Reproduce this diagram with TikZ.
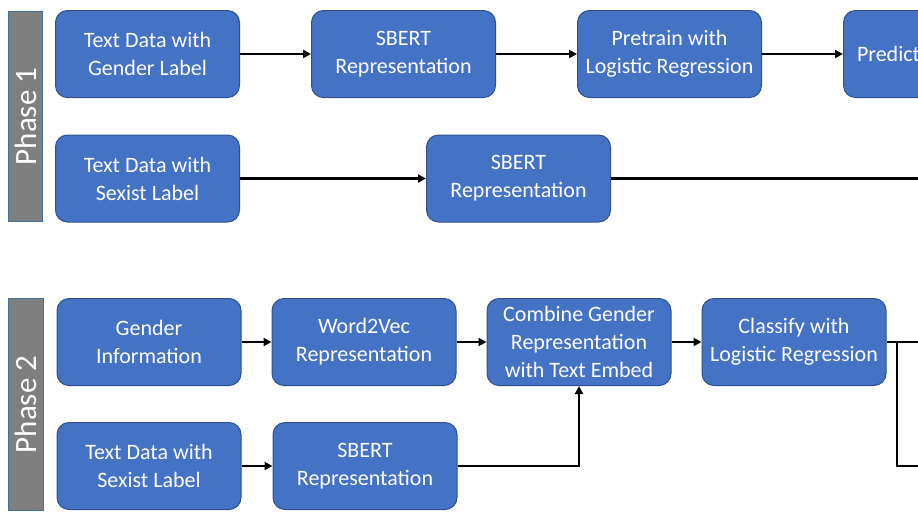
\documentclass[tikz,border=0pt]{standalone}
\usepackage{fontspec}
\setmainfont{Carlito}
\usepackage{xcolor}
\usepackage{tikz}
\usetikzlibrary{positioning,arrows.meta}
\definecolor{boxblue}{HTML}{4472C4}
\definecolor{boxline}{HTML}{2F528F}
\definecolor{phasegray}{HTML}{7F7F7F}
\definecolor{phaseline}{HTML}{41719C}
\tikzset{
  proc/.style={rectangle, rounded corners=12pt, draw=boxline, fill=boxblue, line width=1pt,
    text=white, align=center, font=\fontsize{22}{28}\selectfont,
    minimum width=184pt, minimum height=87pt, inner sep=0pt},
  phase/.style={rectangle, draw=phaseline, fill=phasegray, line width=1pt,
    text=white, font=\fontsize{31}{36}\selectfont, rotate=90, inner sep=0pt},
  flow/.style={-{Triangle[length=8pt,width=8pt]}, draw=black, line width=2.5pt},
  wire/.style={draw=black, line width=2.5pt},
}
\begin{document}
\begin{tikzpicture}[x=1pt, y=-1pt]
\useasboundingbox (0,0) rectangle (918,517);
\clip (0,0) rectangle (918,517);
\coordinate (edge) at (918,0);
\coordinate (split) at (897,0);
% phase labels
\node[phase, minimum width=210pt, minimum height=34pt] (p1) at (25.5,116.5) {Phase 1};
\node[phase, minimum width=212pt, minimum height=35pt] (p2) at (26,404.5) {Phase 2};
% phase 1, gender branch
\node[proc] (a1) at (147.5,54) {Text Data with\\Gender Label};
\node[proc, right=71pt of a1] (a2) {SBERT\\Representation};
\node[proc, right=81pt of a2] (a3) {Pretrain with\\Logistic Regression};
\node[proc, right=81pt of a3, text width=157pt, align=left, inner xsep=13.5pt] (a4) {Predict};
% phase 1, sexist branch
\node[proc] (b1) at (147.5,178.5) {Text Data with\\Sexist Label};
\node[proc, right=186pt of b1] (b2) {SBERT\\Representation};
% phase 2
\node[proc] (c1) at (149,342) {Gender\\Information};
\node[proc, right=30pt of c1] (c2) {Word2Vec\\Representation};
\node[proc, right=30pt of c2] (c3) {Combine Gender\\Representation\\with Text Embed};
\node[proc, right=30pt of c3] (c4) {Classify with\\Logistic Regression};
\node[proc] (d1) at (149,466) {Text Data with\\Sexist Label};
\node[proc, right=31pt of d1] (d2) {SBERT\\Representation};
\draw[flow] (a1)--(a2);
\draw[flow] (a2)--(a3);
\draw[flow] (a3)--(a4);
\draw[flow] (b1)--(b2);
\draw[wire] (b2.east)--(b2.east -| edge);
\draw[flow] (c1)--(c2);
\draw[flow] (c2)--(c3);
\draw[flow] (c3)--(c4);
\draw[flow] (d1)--(d2);
\draw[flow] (d2.east) -| (c3.south);
\draw[wire] (c4.east)--(c4.east -| edge);
\draw[wire] (c4.east -| split) |- (edge |- d1);
\end{tikzpicture}
\end{document}
